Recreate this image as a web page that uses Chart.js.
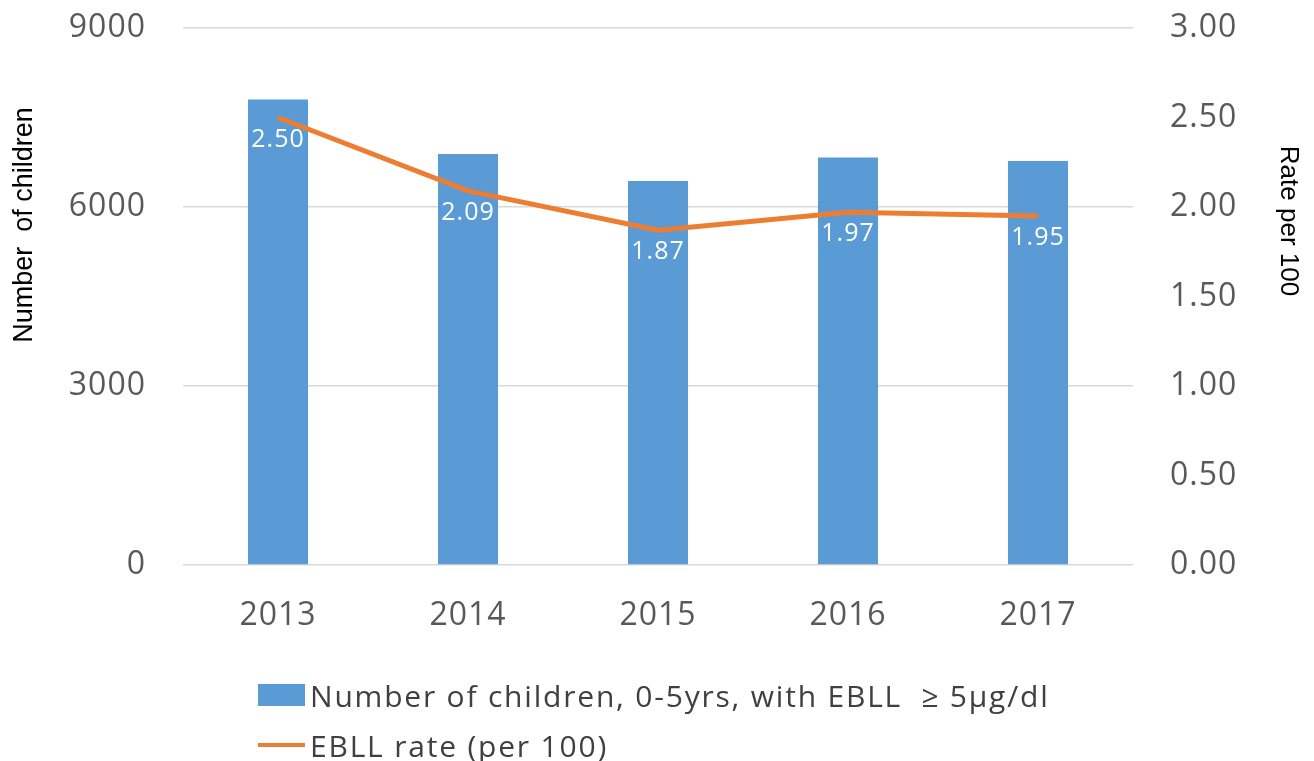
<!DOCTYPE html>
<html lang="en">
<head>
    <meta charset="UTF-8">
    <title>EBLL children chart</title>
    <style>
        body { margin: 0; background: #fff; }
        #wrap { position: relative; width: 1314px; height: 761px; }
        #legend { position: absolute; left: 258px; top: 670px; font-family: "Open Sans", sans-serif; font-size: 30px; letter-spacing: 1.8px; color: #404040; white-space: pre; }
        .item { display: flex; align-items: center; height: 50px; }
        .swatch { width: 47px; margin-right: 5px; }
    </style>
</head>
<body>
<div id="wrap">
    <canvas id="chart" width="1314" height="761"></canvas>
    <div id="legend"></div>
</div>

<script src="https://cdn.jsdelivr.net/npm/chart.js@4"></script>
<script>
    const years = ['2013', '2014', '2015', '2016', '2017'];
    const childCounts = [7800, 6890, 6435, 6830, 6770];
    const ebllRates = [2.50, 2.09, 1.87, 1.97, 1.95];
    const countTicks = [0, 3000, 6000, 9000];
    const rateTicks = [0, 0.5, 1, 1.5, 2, 2.5, 3];

    const BLUE = '#5B9BD5';
    const ORANGE = '#ED7D31';
    const tickFont = { family: 'Open Sans', size: 32 };

    // a little extra spacing on canvas text, the original font is wide
    const spacing = {
        id: 'spacing',
        beforeDraw(chart) { chart.ctx.letterSpacing = '1px'; }
    };

    // white value labels under the line points
    const rateLabels = {
        id: 'rateLabels',
        afterDatasetsDraw(chart) {
            const meta = chart.getDatasetMeta(1);
            const c = chart.ctx;
            c.save();
            c.font = '25px "Open Sans"';
            c.fillStyle = '#fff';
            c.textAlign = 'center';
            c.textBaseline = 'middle';
            meta.data.forEach((pt, i) => {
                c.fillText(ebllRates[i].toFixed(2), pt.x, pt.y + 22);
            });
            c.restore();
        }
    };

    // axis titles, placed like the original (a bit above the middle)
    const axisTitles = {
        id: 'axisTitles',
        afterDraw(chart) {
            const c = chart.ctx;
            c.save();
            c.fillStyle = '#000';
            c.textAlign = 'center';
            c.textBaseline = 'middle';
            c.letterSpacing = '0px';
            c.font = '27px "Liberation Sans"';
            c.translate(25, 225);
            c.rotate(-Math.PI / 2);
            c.fillText('Number  of children', 0, 0);
            c.restore();
            c.save();
            c.fillStyle = '#000';
            c.textAlign = 'center';
            c.textBaseline = 'middle';
            c.letterSpacing = '0px';
            c.font = '26px "Liberation Sans"';
            c.translate(1288, 221);
            c.rotate(Math.PI / 2);
            c.fillText('Rate per 100', 0, 0);
            c.restore();
        }
    };

    // keep the plot box where the original has it
    function fixY(width) {
        return s => {
            s.width = width;
            s.paddingTop = 0;
            s.paddingBottom = 0;
        };
    }

    const chart = new Chart(document.getElementById('chart'), {
        type: 'bar',
        data: {
            labels: years,
            datasets: [
                {
                    type: 'bar',
                    label: 'Number of children, 0-5yrs, with EBLL  \u2265 5\u00b5g/dl',
                    data: childCounts,
                    backgroundColor: BLUE,
                    yAxisID: 'y',
                    order: 1,
                    categoryPercentage: 0.8,
                    barPercentage: 0.395
                },
                {
                    type: 'line',
                    label: 'EBLL rate (per 100)',
                    data: ebllRates,
                    borderColor: ORANGE,
                    backgroundColor: ORANGE,
                    borderWidth: 5,
                    pointRadius: 0,
                    tension: 0,
                    yAxisID: 'y1',
                    order: 0
                }
            ]
        },
        options: {
            responsive: false,
            animation: false,
            layout: { padding: { top: 28, left: 0, right: 0, bottom: 0 } },
            plugins: {
                legend: { display: false },
                tooltip: { enabled: false }
            },
            scales: {
                x: {
                    grid: { display: false },
                    border: { display: false },
                    ticks: { font: tickFont, color: '#595959', padding: 24 },
                    afterFit: s => { s.height = 761 - 565; }
                },
                y: {
                    position: 'left',
                    min: 0,
                    max: 9000,
                    afterBuildTicks: s => { s.ticks = countTicks.map(v => ({ value: v })); },
                    grid: { color: '#d9d9d9', lineWidth: 1.5, drawTicks: false },
                    border: { display: false },
                    ticks: { font: tickFont, color: '#595959', padding: 37, callback: v => String(v) },
                    afterFit: fixY(183)
                },
                y1: {
                    position: 'right',
                    min: 0,
                    max: 3,
                    afterBuildTicks: s => { s.ticks = rateTicks.map(v => ({ value: v })); },
                    grid: { display: false, drawTicks: false },
                    border: { display: false },
                    ticks: {
                        font: tickFont,
                        color: '#595959',
                        padding: 37,
                        callback: v => Number(v).toFixed(2)
                    },
                    afterFit: fixY(1314 - 1133)
                }
            }
        },
        plugins: [spacing, rateLabels, axisTitles]
    });

    // legend below the plot, one item per line
    const legend = document.getElementById('legend');
    chart.data.datasets.forEach(ds => {
        const item = document.createElement('div');
        item.className = 'item';
        const sw = document.createElement('span');
        sw.className = 'swatch';
        if (ds.type === 'line') {
            sw.style.height = '4px';
        } else {
            sw.style.height = '22px';
        }
        sw.style.background = ds.backgroundColor;
        const txt = document.createElement('span');
        txt.textContent = ds.label;
        item.appendChild(sw);
        item.appendChild(txt);
        legend.appendChild(item);
    });
</script>
</body>
</html>
